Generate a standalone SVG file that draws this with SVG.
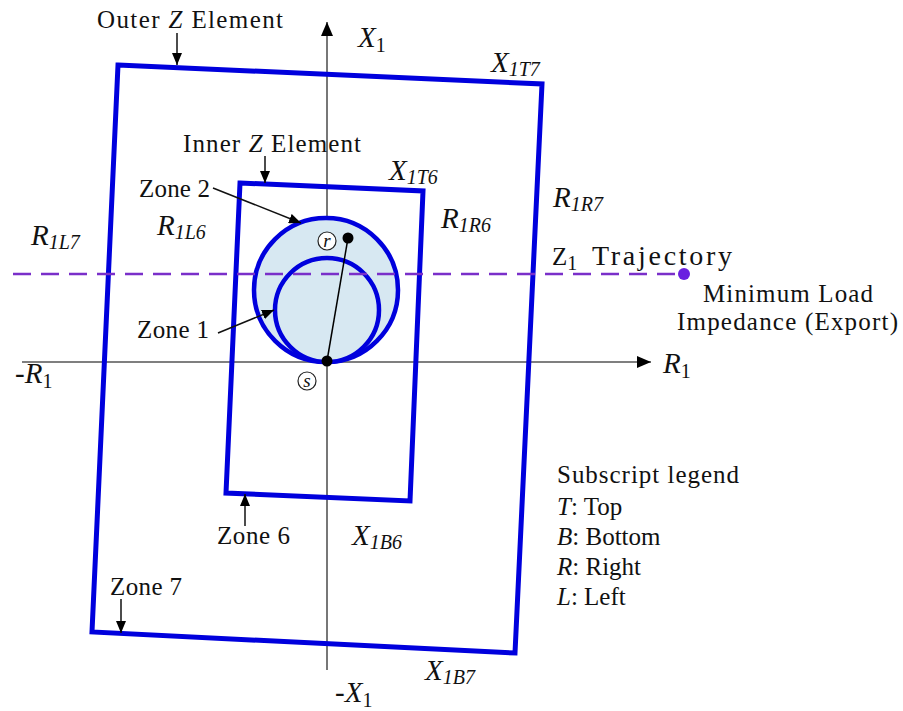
<svg xmlns="http://www.w3.org/2000/svg" width="903" height="711" viewBox="0 0 903 711">
<style>
.t{font-family:"Liberation Serif","DejaVu Serif",serif;font-size:25px;fill:#111}
.m{font-family:"Liberation Serif","DejaVu Serif",serif;font-size:29px;font-style:italic;fill:#111}
.s{font-size:20px;font-style:italic}
.su{font-size:20px;font-style:normal}
.zone{fill:none;stroke:#0000dd;stroke-width:5;stroke-linejoin:miter}
.circ{fill:#d7e8f2;stroke:#0000dd;stroke-width:4.5}
.axis{stroke:#555;stroke-width:1.6;fill:none}
.lbl{stroke:#111;stroke-width:1.5;fill:none}
.traj{stroke:#7a2fc9;stroke-width:2.5;stroke-dasharray:18 10;fill:none}
.pt{fill:#000}
.ring{fill:#fff;stroke:#222;stroke-width:1.2}
</style>
<defs>
<marker id="ax" viewBox="0 0 14 12" refX="14" refY="6" markerWidth="14" markerHeight="12" markerUnits="userSpaceOnUse" orient="auto"><path d="M0,0 L14,6 L0,12 z" fill="#000"/></marker>
<marker id="ar" viewBox="0 0 12 10" refX="12" refY="5" markerWidth="12" markerHeight="10" markerUnits="userSpaceOnUse" orient="auto"><path d="M0,0 L12,5 L0,10 z" fill="#000"/></marker>
</defs>
<rect width="903" height="711" fill="#fff"/>

<g id="axes">
<line class="axis" x1="22" y1="362" x2="651" y2="362" marker-end="url(#ax)"/>
<line class="axis" x1="327" y1="670" x2="327" y2="22" marker-end="url(#ax)"/>
</g>

<g id="zone7"><polygon class="zone" points="118,65 542,84 515,653 92,632"/></g>
<g id="zone6"><polygon class="zone" points="240,183 423,191 410,501 226,493"/></g>

<g id="zone2"><circle class="circ" cx="326" cy="290" r="72"/></g>
<g id="zone1"><circle class="circ" cx="327" cy="310" r="52"/></g>

<g id="trajectory">
<line class="traj" x1="13" y1="274" x2="680" y2="274"/>
<circle cx="684" cy="274" r="6" fill="#6a1fe0"/>
</g>

<g id="points">
<line x1="327" y1="361" x2="348" y2="238" stroke="#000" stroke-width="1.5"/>
<circle class="pt" cx="348" cy="238" r="5.5"/>
<circle class="pt" cx="327" cy="361" r="5.5"/>
<circle class="ring" cx="327" cy="241" r="9"/>
<text class="m" x="327" y="247" text-anchor="middle" style="font-size:19px">r</text>
<circle class="ring" cx="307" cy="381" r="9"/>
<text class="m" x="307" y="387" text-anchor="middle" style="font-size:19px">s</text>
</g>

<g id="connectors">
<line class="lbl" x1="177" y1="33" x2="177" y2="65" marker-end="url(#ar)"/>
<line class="lbl" x1="265" y1="156" x2="265" y2="183" marker-end="url(#ar)"/>
<line class="lbl" x1="213" y1="188" x2="301" y2="223" marker-end="url(#ar)"/>
<line class="lbl" x1="218" y1="333" x2="274" y2="310" marker-end="url(#ar)"/>
<line class="lbl" x1="245" y1="526" x2="245" y2="494" marker-end="url(#ar)"/>
<line class="lbl" x1="121" y1="599" x2="121" y2="633" marker-end="url(#ar)"/>
</g>

<g id="labels">
<text class="t" x="97" y="28" textLength="186" lengthAdjust="spacing">Outer <tspan font-style="italic">Z</tspan> Element</text>
<text class="t" x="183" y="152" textLength="178" lengthAdjust="spacing">Inner <tspan font-style="italic">Z</tspan> Element</text>
<text class="t" x="139" y="197" textLength="71" lengthAdjust="spacing">Zone 2</text>
<text class="t" x="137" y="338" textLength="72" lengthAdjust="spacing">Zone 1</text>
<text class="t" x="217" y="544" textLength="73" lengthAdjust="spacing">Zone 6</text>
<text class="t" x="110" y="595" textLength="72" lengthAdjust="spacing">Zone 7</text>

<text class="m" x="358" y="47">X<tspan class="su" dy="5">1</tspan></text>
<text class="m" x="335" y="702">-X<tspan class="su" dy="5">1</tspan></text>
<text class="m" x="663" y="373">R<tspan class="su" dy="5">1</tspan></text>
<text class="m" x="15" y="383">-R<tspan class="su" dy="5">1</tspan></text>

<text class="m" x="491" y="72">X<tspan class="s" dy="4">1T7</tspan></text>
<text class="m" x="389" y="180">X<tspan class="s" dy="4">1T6</tspan></text>
<text class="m" x="352" y="545">X<tspan class="s" dy="4">1B6</tspan></text>
<text class="m" x="425" y="680">X<tspan class="s" dy="4">1B7</tspan></text>
<text class="m" x="553" y="207">R<tspan class="s" dy="4">1R7</tspan></text>
<text class="m" x="441" y="228">R<tspan class="s" dy="4">1R6</tspan></text>
<text class="m" x="31" y="245">R<tspan class="s" dy="4">1L7</tspan></text>
<text class="m" x="157" y="235">R<tspan class="s" dy="4">1L6</tspan></text>

<text class="t" x="552" y="265">Z<tspan class="su" dy="5">1</tspan> <tspan x="592" y="265" font-size="28" textLength="140" lengthAdjust="spacing">Trajectory</tspan></text>
<text class="t" x="703" y="302" textLength="170" lengthAdjust="spacing">Minimum Load</text>
<text class="t" x="677" y="330" textLength="221" lengthAdjust="spacing">Impedance (Export)</text>
</g>

<g id="legend">
<text class="t" x="557" y="483" textLength="182" lengthAdjust="spacing">Subscript legend</text>
<text class="t" x="557" y="515"><tspan font-style="italic">T</tspan>: Top</text>
<text class="t" x="557" y="545"><tspan font-style="italic">B</tspan>: Bottom</text>
<text class="t" x="557" y="575"><tspan font-style="italic">R</tspan>: Right</text>
<text class="t" x="557" y="605"><tspan font-style="italic">L</tspan>: Left</text>
</g>
</svg>
